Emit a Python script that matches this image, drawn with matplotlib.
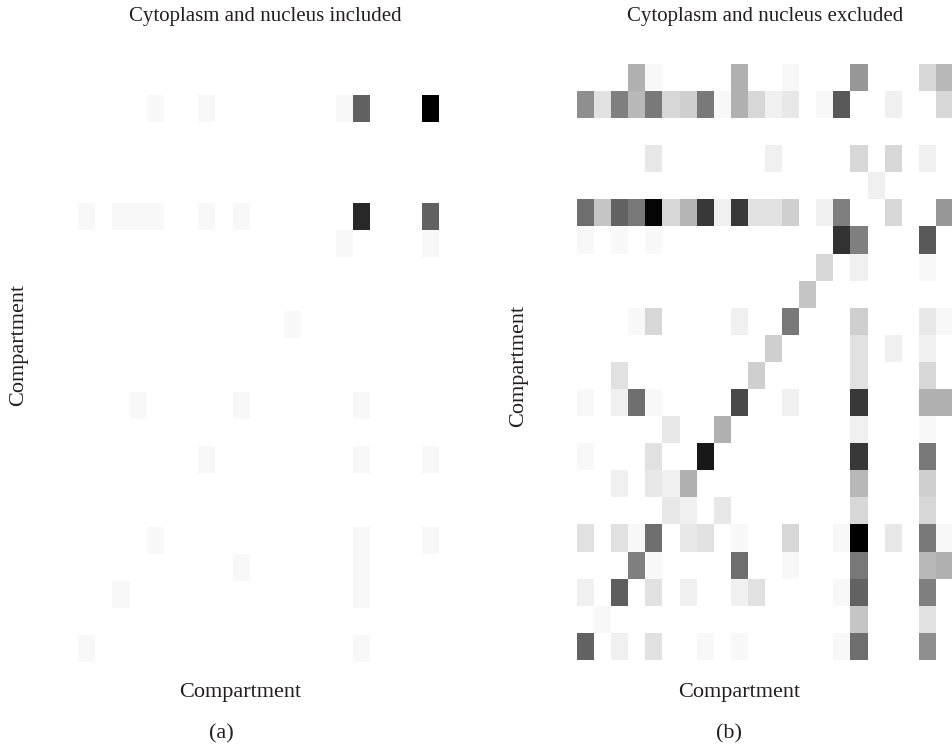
"""
Compartment co-occurrence heatmaps (nucleus/cytoplasm included vs excluded)
"""

import numpy as np
import matplotlib
matplotlib.use("Agg")
import matplotlib.pyplot as plt

# ── Data ──────────────────────────────────────────────────────────────────────
TITLE_A = "Cytoplasm and nucleus included"
TITLE_B = "Cytoplasm and nucleus excluded"
AXIS_LABEL = "Compartment"
PANEL_TAGS = ["(a)", "(b)"]

# intensity 0 (white) .. 1 (black), 22 x 22 compartments, row 0 at top
included = [
    [0, 0, 0, 0, 0, 0, 0, 0, 0, 0, 0, 0, 0, 0, 0, 0, 0, 0, 0, 0, 0, 0],
    [0, 0, 0, 0, .03, 0, 0, .03, 0, 0, 0, 0, 0, 0, 0, .03, .62, 0, 0, 0, 1.0, 0],
    [0, 0, 0, 0, 0, 0, 0, 0, 0, 0, 0, 0, 0, 0, 0, 0, 0, 0, 0, 0, 0, 0],
    [0, 0, 0, 0, 0, 0, 0, 0, 0, 0, 0, 0, 0, 0, 0, 0, 0, 0, 0, 0, 0, 0],
    [0, 0, 0, 0, 0, 0, 0, 0, 0, 0, 0, 0, 0, 0, 0, 0, 0, 0, 0, 0, 0, 0],
    [.03, 0, .03, .03, .03, 0, 0, .03, 0, .03, 0, 0, 0, 0, 0, 0, .84, 0, 0, 0, .62, 0],
    [0, 0, 0, 0, 0, 0, 0, 0, 0, 0, 0, 0, 0, 0, 0, .03, 0, 0, 0, 0, .03, 0],
    [0, 0, 0, 0, 0, 0, 0, 0, 0, 0, 0, 0, 0, 0, 0, 0, 0, 0, 0, 0, 0, 0],
    [0, 0, 0, 0, 0, 0, 0, 0, 0, 0, 0, 0, 0, 0, 0, 0, 0, 0, 0, 0, 0, 0],
    [0, 0, 0, 0, 0, 0, 0, 0, 0, 0, 0, 0, .03, 0, 0, 0, 0, 0, 0, 0, 0, 0],
    [0, 0, 0, 0, 0, 0, 0, 0, 0, 0, 0, 0, 0, 0, 0, 0, 0, 0, 0, 0, 0, 0],
    [0, 0, 0, 0, 0, 0, 0, 0, 0, 0, 0, 0, 0, 0, 0, 0, 0, 0, 0, 0, 0, 0],
    [0, 0, 0, .03, 0, 0, 0, 0, 0, .03, 0, 0, 0, 0, 0, 0, .03, 0, 0, 0, 0, 0],
    [0, 0, 0, 0, 0, 0, 0, 0, 0, 0, 0, 0, 0, 0, 0, 0, 0, 0, 0, 0, 0, 0],
    [0, 0, 0, 0, 0, 0, 0, .03, 0, 0, 0, 0, 0, 0, 0, 0, .03, 0, 0, 0, .03, 0],
    [0, 0, 0, 0, 0, 0, 0, 0, 0, 0, 0, 0, 0, 0, 0, 0, 0, 0, 0, 0, 0, 0],
    [0, 0, 0, 0, 0, 0, 0, 0, 0, 0, 0, 0, 0, 0, 0, 0, 0, 0, 0, 0, 0, 0],
    [0, 0, 0, 0, .03, 0, 0, 0, 0, 0, 0, 0, 0, 0, 0, 0, .03, 0, 0, 0, .03, 0],
    [0, 0, 0, 0, 0, 0, 0, 0, 0, .03, 0, 0, 0, 0, 0, 0, .03, 0, 0, 0, 0, 0],
    [0, 0, .03, 0, 0, 0, 0, 0, 0, 0, 0, 0, 0, 0, 0, 0, .03, 0, 0, 0, 0, 0],
    [0, 0, 0, 0, 0, 0, 0, 0, 0, 0, 0, 0, 0, 0, 0, 0, 0, 0, 0, 0, 0, 0],
    [.03, 0, 0, 0, 0, 0, 0, 0, 0, 0, 0, 0, 0, 0, 0, 0, .03, 0, 0, 0, 0, 0],
]

excluded = [
    [0, 0, 0, .31, .03, 0, 0, 0, 0, .31, 0, 0, .03, 0, 0, 0, .41, 0, 0, 0, .16, .28],
    [.44, .12, .50, .28, .52, .16, .19, .52, .03, .31, .16, .06, .09, 0, .03, .65, 0, 0, .06, 0, 0, .16],
    [0, 0, 0, 0, 0, 0, 0, 0, 0, 0, 0, 0, 0, 0, 0, 0, 0, 0, 0, 0, 0, 0],
    [0, 0, 0, 0, .09, 0, 0, 0, 0, 0, 0, .06, 0, 0, 0, 0, .16, 0, .16, 0, .06, 0],
    [0, 0, 0, 0, 0, 0, 0, 0, 0, 0, 0, 0, 0, 0, 0, 0, 0, .06, 0, 0, 0, 0],
    [.57, .23, .61, .53, .98, .16, .29, .78, .06, .78, .12, .12, .19, 0, .06, .50, 0, 0, .16, 0, 0, .41],
    [.03, 0, .03, 0, .03, 0, 0, 0, 0, 0, 0, 0, 0, 0, 0, .80, .50, 0, 0, 0, .65, 0],
    [0, 0, 0, 0, 0, 0, 0, 0, 0, 0, 0, 0, 0, 0, .16, 0, .06, 0, 0, 0, .03, 0],
    [0, 0, 0, 0, 0, 0, 0, 0, 0, 0, 0, 0, 0, .23, 0, 0, 0, 0, 0, 0, 0, 0],
    [0, 0, 0, .03, .16, 0, 0, 0, 0, .06, 0, 0, .53, 0, 0, 0, .19, 0, 0, 0, .09, .03],
    [0, 0, 0, 0, 0, 0, 0, 0, 0, 0, 0, .19, 0, 0, 0, 0, .12, 0, .06, 0, .06, 0],
    [0, 0, .12, 0, 0, 0, 0, 0, 0, 0, .19, 0, 0, 0, 0, 0, .12, 0, 0, 0, .16, 0],
    [.03, 0, .06, .57, .03, 0, 0, 0, 0, .71, 0, 0, .06, 0, 0, 0, .78, 0, 0, 0, .31, .31],
    [0, 0, 0, 0, 0, .09, 0, 0, .31, 0, 0, 0, 0, 0, 0, 0, .06, 0, 0, 0, .03, 0],
    [.03, 0, 0, 0, .12, 0, 0, .90, 0, 0, 0, 0, 0, 0, 0, 0, .78, 0, 0, 0, .53, 0],
    [0, 0, .06, 0, .09, .06, .31, 0, 0, 0, 0, 0, 0, 0, 0, 0, .28, 0, 0, 0, .19, 0],
    [0, 0, 0, 0, 0, .09, .06, 0, .09, 0, 0, 0, 0, 0, 0, 0, .16, 0, 0, 0, .16, 0],
    [.12, 0, .12, .03, .57, 0, .09, .12, 0, .03, 0, 0, .16, 0, 0, .03, 1.0, 0, .09, 0, .53, .03],
    [0, 0, 0, .50, .03, 0, 0, 0, 0, .57, 0, 0, .03, 0, 0, 0, .53, 0, 0, 0, .28, .31],
    [.06, 0, .63, 0, .12, 0, .06, 0, 0, .06, .12, 0, 0, 0, 0, .03, .61, 0, 0, 0, .50, 0],
    [0, .03, 0, 0, 0, 0, 0, 0, 0, 0, 0, 0, 0, 0, 0, 0, .23, 0, 0, 0, .12, 0],
    [.61, 0, .06, 0, .12, 0, 0, .03, 0, .03, 0, 0, 0, 0, 0, .03, .57, 0, 0, 0, .44, 0],
]

# ── Style ─────────────────────────────────────────────────────────────────────
W_PX, H_PX = 953, 750
DPI = 100
TEXT = "#231f20"
FS = 16
FS_TITLE = 15
plt.rcParams.update({
    "font.family": ["Liberation Serif", "DejaVu Serif"],
    "text.color": TEXT,
})

fig = plt.figure(figsize=(W_PX / DPI, H_PX / DPI), dpi=DPI, facecolor="white")

def px_box(x0, y0, x1, y1):
    # pixel box (top-left origin) -> figure fraction rect
    return [x0 / W_PX, 1 - y1 / H_PX, (x1 - x0) / W_PX, (y1 - y0) / H_PX]

def fig_text(x, y, s, size=FS, **kw):
    fig.text(x / W_PX, 1 - y / H_PX, s, ha="center", va="center",
             fontsize=size, **kw)

panels = [
    (included, px_box(78, 68, 456, 662), TITLE_A, 265, 240, 221, 19, 345),
    (excluded, px_box(577, 64, 953, 660), TITLE_B, 765, 739, 729, 519, 366),
]

for (data, rect, title, tx, lx, tagx, yx, yy), tag in zip(panels, PANEL_TAGS):
    ax = fig.add_axes(rect)
    ax.imshow(np.array(data), cmap="gray_r", vmin=0, vmax=1,
              aspect="auto", interpolation="nearest")
    ax.axis("off")
    fig_text(tx, 17, title, size=FS_TITLE)
    fig_text(lx, 692, AXIS_LABEL)
    fig_text(tagx, 734, tag)
    fig_text(yx, yy, AXIS_LABEL, rotation=90)

fig.savefig("out.png", dpi=DPI, facecolor="white")
